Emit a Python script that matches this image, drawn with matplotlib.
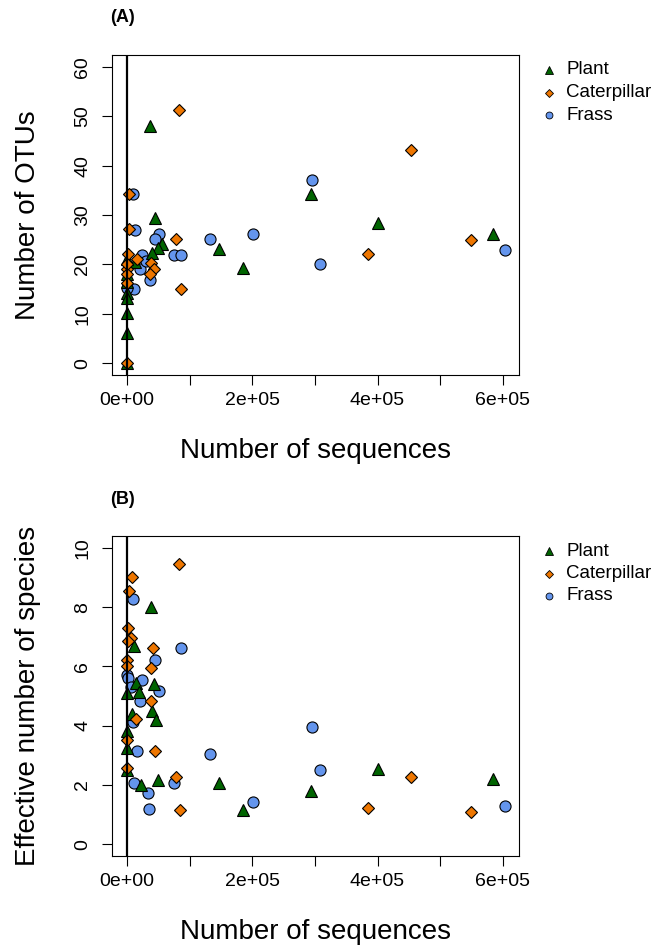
import matplotlib
matplotlib.use('Agg')
import matplotlib.pyplot as plt
import numpy as np

plt.rcParams['font.family'] = ['Liberation Sans', 'DejaVu Sans']

# Panel A: number of OTUs vs number of sequences
plant_seq_a = [37400, 44000, 55200, 50000, 39300, 12800, 0, 0, 0, 0, 0, 0, 0, 0,
               147200, 185600, 294000, 400600, 584000]
plant_otu = [48.0, 29.3, 24.1, 23.4, 22.4, 20.5, 21.0, 18.0, 16.5, 14.3, 13.2, 10.2, 6.1, 0,
             23.2, 19.2, 34.2, 28.3, 26.2]
cat_seq_a = [82700, 3200, 3200, 77600, 2100, 16400, 37700, 43100, 36100, 0, 0, 0, 85500, 0, 0,
             453900, 384600, 549900]
cat_otu = [51.2, 34.2, 27.1, 25.1, 22.2, 21.1, 20.3, 19.1, 18.0, 19.0, 18.0, 16.3, 15.0, 0, 20.0,
           43.2, 22.1, 25.0]
frass_seq_a = [9600, 12100, 51000, 44000, 75000, 86600, 23300, 20100, 36100, 11200, 0, 30000,
               132300, 201600, 295000, 308300, 603200]
frass_otu = [34.2, 27.0, 26.1, 25.1, 22.0, 22.0, 22.0, 19.1, 16.9, 15.0, 15.2, 20.7,
             25.1, 26.1, 37.1, 20.0, 23.0]

# Panel B: effective number of species vs number of sequences
plant_seq_b = [37700, 11200, 13700, 43100, 0, 19100, 39300, 45600, 8000, 0, 0, 0, 21700, 50000,
               147200, 185600, 294000, 400600, 584000]
plant_div = [8.0, 6.70, 5.44, 5.42, 5.10, 5.12, 4.51, 4.20, 4.40, 3.83, 3.24, 2.51, 2.0, 2.17,
             2.08, 1.16, 1.80, 2.53, 2.21]
cat_seq_b = [83000, 7400, 3200, 2100, 5900, 1600, 41500, 0, 0, 37700, 37700, 14800, 0, 44700, 0,
             77600, 84300, 453900, 384600, 549900]
cat_div = [9.44, 9.02, 8.56, 7.30, 6.96, 6.84, 6.62, 6.23, 6.02, 5.95, 4.82, 4.22, 3.52, 3.13, 2.57,
           2.28, 1.14, 2.28, 1.22, 1.10]
frass_seq_b = [10000, 86600, 44000, 0, 2000, 23300, 51000, 7000, 20100, 10000, 16400, 11200, 75000,
               34000, 35200, 132300, 201600, 295000, 308300, 603200]
frass_div = [8.29, 6.62, 6.23, 5.72, 5.61, 5.55, 5.16, 5.30, 4.82, 4.11, 3.15, 2.06, 2.08,
             1.74, 1.20, 3.04, 1.42, 3.94, 2.49, 1.29]

groups = ['Plant', 'Caterpillar', 'Frass']
colors = {'Plant': '#006400', 'Caterpillar': '#EE7600', 'Frass': '#6495ED'}
markers = {'Plant': '^', 'Caterpillar': 'D', 'Frass': 'o'}
msizes = {'Plant': 9.0, 'Caterpillar': 6.4, 'Frass': 8.0}

W, H = 651, 950
fig = plt.figure(figsize=(W / 100, H / 100), dpi=100)


def px(x, y):
    return x / W, 1 - y / H


def panel(top, data, ylim, yticks, ylabel, tag):
    ax = fig.add_axes([112 / W, 1 - (top + 320) / H, 407 / W, 320 / H])
    # draw order: frass, plant, caterpillar
    for g in ['Frass', 'Plant', 'Caterpillar']:
        xs, ys = data[g]
        ax.plot(xs, ys, linestyle='none', marker=markers[g], ms=msizes[g],
                mfc=colors[g], mec='black', mew=0.8, zorder=3)
    ax.axvline(0, color='black', lw=1.6, zorder=4)
    ax.set_xlim(-24060, 626000)
    ax.set_ylim(*ylim)
    ax.set_xticks([0, 100000, 200000, 300000, 400000, 500000, 600000])
    ax.set_xticklabels(['0e+00', '', '2e+05', '', '4e+05', '', '6e+05'])
    ax.set_yticks(yticks)
    ax.set_yticklabels([str(t) for t in yticks], rotation=90, va='center')
    ax.tick_params(direction='out', length=7, width=0.8, labelsize=14)
    ax.tick_params(axis='x', pad=5)
    ax.tick_params(axis='y', pad=8)
    for s in ax.spines.values():
        s.set_linewidth(0.8)
    fig.text(*px(315.5, top + 396), 'Number of sequences', fontsize=20,
             ha='center', va='center')
    fig.text(*px(28, top + 160), ylabel, fontsize=20, rotation=90,
             ha='center', va='center')
    fig.text(*px(123, top - 37), tag, fontsize=13, fontweight='bold',
             ha='center', va='center')
    # legend outside on the right
    for i, g in enumerate(groups):
        yy = top + 15 + 22.5 * i
        fig.lines.append(plt.Line2D([549 / W], [1 - yy / H], transform=fig.transFigure,
                                    marker=markers[g], ms=msizes[g] * 0.62, mfc=colors[g],
                                    mec='black', mew=0.6, linestyle='none'))
        fig.text(*px(566, yy), g, fontsize=13.5, ha='left', va='center')
    return ax


panel(55, {'Plant': (plant_seq_a, plant_otu), 'Caterpillar': (cat_seq_a, cat_otu),
           'Frass': (frass_seq_a, frass_otu)},
      (-2.4, 62.4), [0, 10, 20, 30, 40, 50, 60], 'Number of OTUs', '(A)')
panel(536, {'Plant': (plant_seq_b, plant_div), 'Caterpillar': (cat_seq_b, cat_div),
            'Frass': (frass_seq_b, frass_div)},
      (-0.4, 10.4), [0, 2, 4, 6, 8, 10], 'Effective number of species', '(B)')

plt.savefig('out.png', dpi=100)
plt.close()
